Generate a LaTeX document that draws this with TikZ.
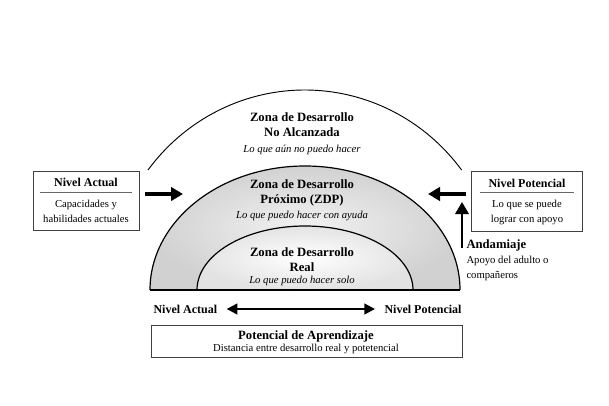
\documentclass[tikz,border=0pt]{standalone}
\usepackage{fontspec}
\setmainfont{Liberation Serif}
\usetikzlibrary{arrows.meta}

\tikzset{every picture/.style={line width=0.75pt}}

\begin{document}
\begin{tikzpicture}[x=0.75pt,y=0.75pt,yscale=-1,xscale=1,
    zonetitle/.style={inner sep=0.75pt, align=center, font=\fontsize{9.5}{11.3}\selectfont\bfseries},
    zonenote/.style={inner sep=0.75pt, font=\fontsize{8}{10}\selectfont\itshape},
    boxtitle/.style={inner sep=0.75pt, font=\fontsize{9}{11}\selectfont\bfseries},
    boxnote/.style={inner sep=0.75pt, align=center, font=\fontsize{8}{11.3}\selectfont},
    levelbox/.style={draw=black!75, line width=0.7pt},
    bigarrow/.style={-{Triangle[length=9pt,width=10pt]}, line width=2.4pt},
    thinarrow/.style={{Triangle[length=8pt,width=8pt]}-{Triangle[length=8pt,width=8pt]}, line width=1.6pt}
    ]
    \useasboundingbox (0,0) rectangle (609,406);
    % Zones
    \shade [inner color=gray!10, outer color=gray!36] (150,290) arc[start angle=180, end angle=360, x radius=155, y radius=124] -- cycle ;
    \shade [inner color=white, outer color=gray!22] (197,290) arc[start angle=180, end angle=360, x radius=108, y radius=64] -- cycle ;
    \draw [line width=0.9pt] (150,290) arc[start angle=180, end angle=360, x radius=155, y radius=124] ;
    \draw [line width=0.9pt] (197,290) arc[start angle=180, end angle=360, x radius=108, y radius=64] ;
    \draw [line width=0.9pt] (150,290) -- (460,290) ;
    \draw [line width=0.7pt] (148,170) arc[start angle=216.87, end angle=323.13, x radius=196, y radius=200] ;
    % Text Node
    \node [zonetitle] (outerT) at (302,125) {Zona de Desarrollo\\No Alcanzada};
    \node [zonenote] (outerN) at (302,150) {Lo que aún no puedo hacer};
    \node [zonetitle] (midT) at (302,193) {Zona de Desarrollo\\Próximo (ZDP)};
    \node [zonenote] (midN) at (302,216) {Lo que puedo hacer con ayuda};
    \node [zonetitle] (innerT) at (302,260) {Zona de Desarrollo\\Real};
    \node [zonenote] (innerN) at (302,281) {Lo que puedo hacer solo};
    % Text Node
    \draw [levelbox] (33,171) -- (139,171) -- (139,230) -- (33,230) -- cycle ;
    \node [boxtitle] (actualT) at (86,182) {Nivel Actual};
    \draw [line width=0.5pt, draw=black!60] (40,192) -- (132,192) ;
    \node [boxnote] (actualN) at (86,211) {Capacidades y\\habilidades actuales};
    % Text Node
    \draw [levelbox] (471,171) -- (582,171) -- (582,231) -- (471,231) -- cycle ;
    \node [boxtitle] (potT) at (527,183) {Nivel Potencial};
    \draw [line width=0.5pt, draw=black!60] (480,192) -- (574,192) ;
    \node [boxnote] (potN) at (527,212) {Lo que se puede\\lograr con apoyo};
    % Text Node
    \node [boxtitle, anchor=west, font=\fontsize{9.5}{11}\selectfont\bfseries] (scaff) at (465,245) {Andamiaje};
    \node [boxnote, anchor=north west, align=left] (scaffN) at (465,255) {Apoyo del adulto o\\compañeros};
    % Text Node
    \node [boxtitle, anchor=west] (lowA) at (152,309) {Nivel Actual};
    \node [boxtitle, anchor=east] (lowP) at (463,309) {Nivel Potencial};
    % Text Node
    \draw [levelbox] (151,325) -- (462,325) -- (462,357) -- (151,357) -- cycle ;
    \node [boxtitle, font=\fontsize{9.5}{11}\selectfont\bfseries] (gapT) at (306,336) {Potencial de Aprendizaje};
    \node [boxnote] (gapN) at (306,349) {Distancia entre desarrollo real y potetencial};
    % Connection
    \coordinate (leftTip) at (183,194);
    \coordinate (rightTip) at (428,194);
    \coordinate (upTail) at (462,248);
    \coordinate (upTip) at (462,202);
    \coordinate (rightTail) at (466,194);
    \draw [bigarrow] (145,194) -- (leftTip) ;
    \draw [bigarrow] (rightTail) -- (rightTip) ;
    \draw [bigarrow, line width=1.8pt] (upTail) -- (upTip) ;
    \draw [thinarrow, shorten <=6pt, shorten >=6pt] (lowA.east) -- (lowP.west) ;
\end{tikzpicture}
\end{document}
